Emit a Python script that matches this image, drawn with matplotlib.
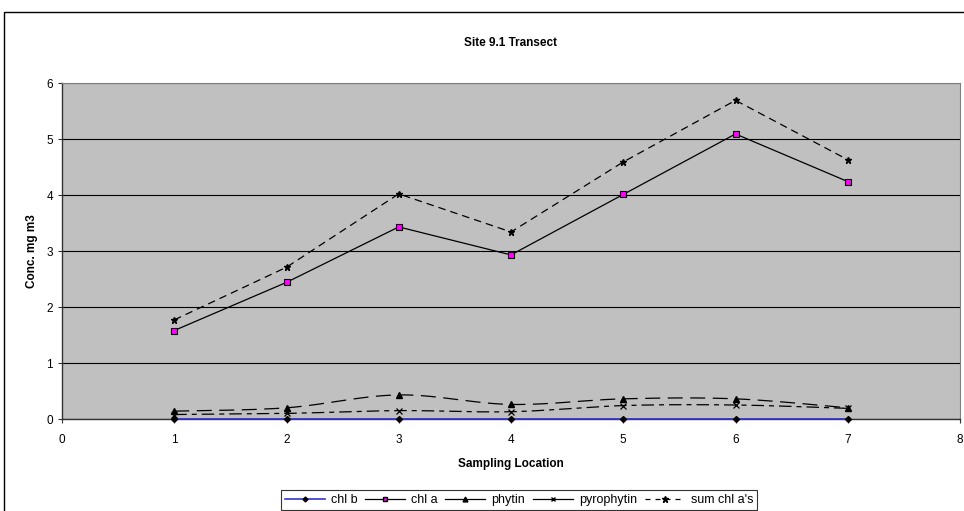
import numpy as np
import matplotlib
matplotlib.use("Agg")
import matplotlib.pyplot as plt
from matplotlib.lines import Line2D
from matplotlib.patches import Rectangle

plt.rcParams['font.family'] = ['Liberation Sans', 'DejaVu Sans']

locations = [1, 2, 3, 4, 5, 6, 7]
chl_b = [0.0, 0.0, 0.0, 0.0, 0.0, 0.0, 0.0]
chl_a = [1.58, 2.44, 3.43, 2.93, 4.01, 5.09, 4.24]
phytin = [0.14, 0.20, 0.43, 0.26, 0.36, 0.36, 0.20]
pyrophytin = [0.08, 0.10, 0.15, 0.13, 0.24, 0.25, 0.19]
sum_chl_a = [1.77, 2.71, 4.02, 3.34, 4.59, 5.69, 4.63]

series_names = ["chl b", "chl a", "phytin", "pyrophytin", "sum chl a's"]
x_ticks = list(range(0, 9))
y_ticks = list(range(0, 7))


def smooth(xs, ys, n=30):
    """Bezier smoothing through every point (Catmull-Rom style)."""
    p = np.column_stack([xs, ys]).astype(float)
    ext = np.vstack([p[0], p, p[-1]])
    out = []
    t = np.linspace(0, 1, n)[:, None]
    for i in range(len(p) - 1):
        p0, p3 = ext[i + 1], ext[i + 2]
        c1 = p0 + (ext[i + 2] - ext[i]) / 6.0
        c2 = p3 - (ext[i + 3] - ext[i + 1]) / 6.0
        seg = ((1 - t) ** 3) * p0 + 3 * ((1 - t) ** 2) * t * c1 \
            + 3 * (1 - t) * t ** 2 * c2 + t ** 3 * p3
        out.append(seg if i == 0 else seg[1:])
    pts = np.vstack(out)
    return pts[:, 0], pts[:, 1]


fig = plt.figure(figsize=(9.64, 5.11), dpi=100)
fig.patch.set_facecolor('white')

# outer chart frame
fig.add_artist(Rectangle((4 / 964, -0.05), 1.2, 1 - 12 / 511 + 0.05,
                         transform=fig.transFigure, fill=False,
                         edgecolor='black', linewidth=1.0))

ax = fig.add_axes([62 / 964, 1 - 419 / 511, (960 - 62) / 964, (419 - 83) / 511])
ax.set_facecolor('#C0C0C0')
ax.set_xlim(0, 8)
ax.set_ylim(0, 6)
ax.set_xticks(x_ticks)
ax.set_yticks(y_ticks)
ax.grid(axis='y', color='black', linewidth=0.8)
ax.set_axisbelow(True)
ax.tick_params(labelsize=8.5, length=3, width=0.8, direction='out', color='#333333')
ax.tick_params(axis='x', pad=8)
for s in ['top', 'right']:
    ax.spines[s].set_color('#808080')
    ax.spines[s].set_linewidth(0.8)
for s in ['left', 'bottom']:
    ax.spines[s].set_color('#333333')
    ax.spines[s].set_linewidth(1.0)

# chl b
ax.plot(locations, chl_b, color='#3333CC', linewidth=1.2, marker='D',
        markersize=3, markerfacecolor='black', markeredgecolor='black',
        zorder=5, clip_on=False)
# chl a
ax.plot(locations, chl_a, color='black', linewidth=0.9, marker='s',
        markersize=4, markerfacecolor='#FF00FF', markeredgecolor='black',
        markeredgewidth=0.8, zorder=6)
# phytin (smoothed, long dashes)
sx, sy = smooth(locations, phytin)
ax.plot(sx, sy, color='black', linewidth=0.9, dashes=(12, 6), zorder=4)
ax.plot(locations, phytin, linestyle='none', marker='^', markersize=4,
        color='black', zorder=6)
# pyrophytin (smoothed, dash-dot)
sx, sy = smooth(locations, pyrophytin)
ax.plot(sx, sy, color='black', linewidth=0.9, dashes=(10, 4, 4, 4), zorder=4)
ax.plot(locations, pyrophytin, linestyle='none', marker='x', markersize=4,
        markeredgewidth=0.9, color='black', zorder=6)
# sum chl a's
ax.plot(locations, sum_chl_a, color='black', linewidth=0.9, dashes=(6, 4),
        marker='*', markersize=5, markerfacecolor='black',
        markeredgecolor='black', zorder=6)

ax.set_title('Site 9.1 Transect', fontsize=8.5, fontweight='bold', pad=27)
ax.set_xlabel('Sampling Location', fontsize=8.5, fontweight='bold', labelpad=8.5)
ax.set_ylabel('Conc. mg m3', fontsize=8.5, fontweight='bold', labelpad=6)

handles = [
    Line2D([], [], color='#3333CC', linewidth=1.2, marker='D', markersize=2.5,
           markerfacecolor='black', markeredgecolor='black'),
    Line2D([], [], color='black', linewidth=0.9, marker='s', markersize=3.5,
           markerfacecolor='#FF00FF', markeredgecolor='black'),
    Line2D([], [], color='black', linewidth=0.9, marker='^', markersize=3.5),
    Line2D([], [], color='black', linewidth=0.9, marker='x', markersize=3.5),
    Line2D([], [], color='black', linewidth=0.9, dashes=(4, 4), marker='*',
           markersize=4.5),
]
leg = fig.legend(handles, series_names, loc='upper center', ncol=5,
                 bbox_to_anchor=(519 / 964, 1 - 484 / 511), fontsize=9,
                 frameon=True, fancybox=False, edgecolor='black',
                 handlelength=3.2, handletextpad=0.5, columnspacing=0.6,
                 borderpad=0.3)
leg.get_frame().set_linewidth(0.8)

fig.savefig('out.png', dpi=100)
